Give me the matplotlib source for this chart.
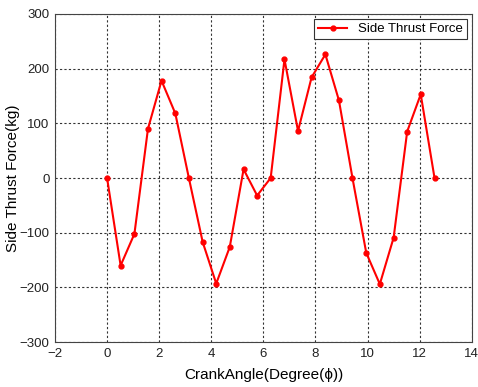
import matplotlib
matplotlib.use("Agg")
import matplotlib.pyplot as plt

plt.rcParams['font.family'] = ['Liberation Sans', 'DejaVu Sans']

# crank angle (rad) and side thrust force (kg)
crank_angle = [0.0, 0.52, 1.05, 1.57, 2.09, 2.62, 3.14, 3.67, 4.19, 4.71,
               5.24, 5.76, 6.28, 6.81, 7.33, 7.85, 8.38, 8.90, 9.42, 9.95,
               10.47, 11.00, 11.52, 12.04, 12.57]
side_thrust = [0, -160, -102, 90, 178, 118, 0, -117, -193, -126,
               16, -32, 0, 217, 86, 184, 226, 142, 0, -137,
               -194, -109, 85, 153, 0]

fig = plt.figure(figsize=(4.78, 3.87), dpi=100)
ax = fig.add_axes([0.115, 0.116, 0.872, 0.848])

ax.plot(crank_angle, side_thrust, color='red', linewidth=1.5,
        marker='o', markersize=3.5, label='Side Thrust Force')

ax.set_xlim(-2, 14)
ax.set_ylim(-300, 300)
ax.set_xticks(range(-2, 15, 2))
ax.set_yticks(range(-300, 301, 100))
ax.grid(True, color='#333333', linestyle=(0, (2, 2)), linewidth=0.8)
ax.tick_params(length=0, labelsize=9.5, labelcolor='#222222', pad=4)
for s in ax.spines.values():
    s.set_color('#444444')

ax.set_xlabel('CrankAngle(Degree(ϕ))', fontsize=11, labelpad=6)
ax.set_ylabel('Side Thrust Force(kg)', fontsize=11)
ax.yaxis.set_label_coords(-0.085, 0.5)

leg = ax.legend(loc='upper right', fontsize=9.5, fancybox=False,
                edgecolor='#333333', framealpha=1, borderaxespad=0.4,
                handlelength=2.2, borderpad=0.3)
leg.get_frame().set_linewidth(0.8)

fig.savefig('out.png', dpi=100)
